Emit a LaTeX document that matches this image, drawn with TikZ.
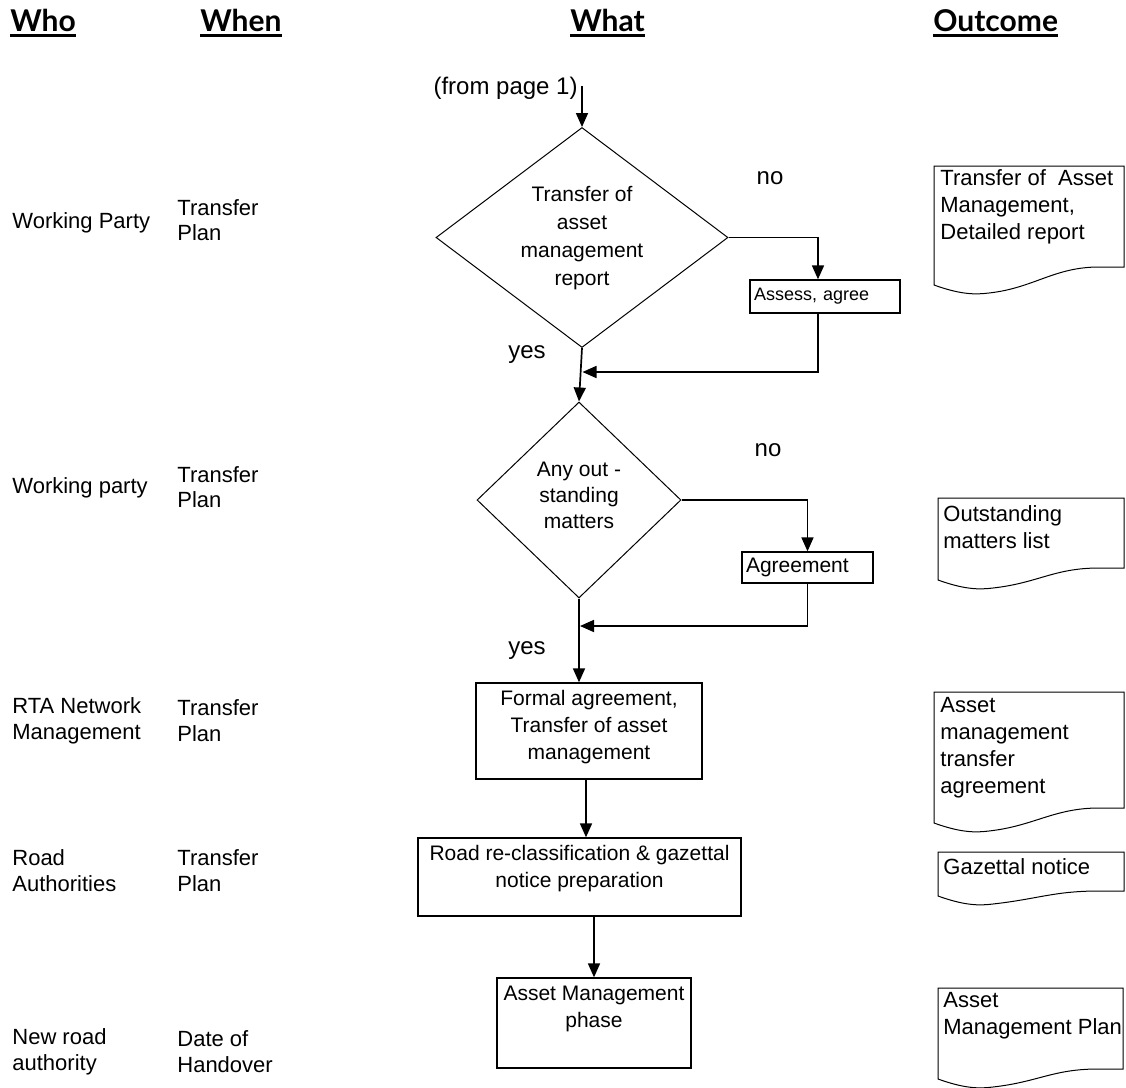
\documentclass[tikz,border=0pt]{standalone}
\usepackage{fontspec}
\setmainfont{Liberation Sans}
\newfontfamily\hdrfont{Lato}
\usetikzlibrary{shapes.geometric,arrows.meta,calc}
\newcommand\hul[1]{\setbox0\hbox{#1}\rlap{\rule[-3pt]{\wd0}{1.4pt}}\box0}
\newcommand\outdoc[6]{% name L T R yL yR
  \draw[docline] (#2,#3) -- (#4,#3) -- (#4,#6) -- ({#4-25},#6)
    .. controls ({#4-70},#6) and ({#2+100},{#5+3}) .. ({#2+55},{#5+8})
    .. controls ({#2+40},{#5+10}) and ({#2+25},{#5+9}) .. (#2,#5) -- cycle;}
\begin{document}
\begin{tikzpicture}[x=0.5pt,y=-0.5pt,
  hdr/.style={anchor=base west,inner sep=0,font=\hdrfont\bfseries\fontsize{15}{18}\selectfont},
  lbl/.style={anchor=west,align=left,inner sep=0,font=\fontsize{11}{12.5}\selectfont},
  lblb/.style={anchor=west,align=left,inner sep=0,font=\fontsize{11}{13}\selectfont},
  doctext/.style={anchor=west,align=left,inner sep=0,font=\fontsize{11}{13.5}\selectfont},
  lab/.style={inner sep=0,font=\fontsize{12}{14}\selectfont},
  dia/.style={draw,diamond,line width=0.5pt,inner sep=0},
  diatext/.style={inner sep=0,align=center,font=\fontsize{10.5}{14}\selectfont},
  box/.style={draw,line width=0.65pt,inner sep=0},
  toptext/.style={anchor=north,inner xsep=0,inner ysep=4pt,align=center,font=\fontsize{10.5}{13.5}\selectfont},
  docline/.style={line width=0.5pt},
  arr/.style={line width=0.85pt,-{Triangle[length=7pt,width=6pt]}}]
\useasboundingbox (0,0) rectangle (1126,1088);

% headers
\node[hdr] (hwho) at (10,31) {\hul{Who}};
\node[hdr] (hwhen) at (200,31) {\hul{When}};
\node[hdr] (hwhat) at (570,31) {\hul{What}};
\node[hdr] (hout) at (933,31) {\hul{Outcome}};

% left columns
\node[lbl] (who1) at (12,223) {Working Party};
\node[lbl] (when1) at (177,220) {Transfer\\Plan};
\node[lbl] (who2) at (12,488) {Working party};
\node[lbl] (when2) at (177,487) {Transfer\\Plan};
\node[lblb] (who3) at (12,721) {RTA Network\\Management};
\node[lblb] (when3) at (177,721) {Transfer\\Plan};
\node[lblb] (who4) at (12,871) {Road\\Authorities};
\node[lblb] (when4) at (177,871) {Transfer\\Plan};
\node[lblb] (who5) at (12,1052) {New road\\authority};
\node[lblb] (when5) at (177,1052) {Date of\\Handover};

% flow
\coordinate (fp) at (582,86);
\node[lab,anchor=east] (frompg) at (578,88) {(from page 1)};
\node[dia,minimum width=146pt,minimum height=110pt] (d1) at (582,237.5) {};
\node[diatext] (d1t) at (582,238) {Transfer of\\asset\\management\\report};
\node[box,text width=71pt,align=left,minimum height=16.5pt,inner xsep=2pt,font=\fontsize{9}{11}\selectfont] (a1) at (825,296.5) {Assess, agree};
\node[dia,minimum width=102pt,minimum height=98pt] (d2) at (579,500) {};
\node[diatext,font=\fontsize{10.5}{13}\selectfont] (d2t) at (579,495) {Any out -\\standing\\matters};
\node[box,text width=61.5pt,align=left,minimum height=15.5pt,inner xsep=2pt,font=\fontsize{10.5}{12}\selectfont] (a2) at (807.5,567.5) {Agreement};
\node[box,minimum width=113pt,minimum height=48pt] (f1) at (589,731) {};
\node[toptext] (f1t) at (f1.north) {Formal agreement,\\Transfer of asset\\management};
\node[box,minimum width=161.5pt,minimum height=39pt] (r1) at (579.5,877) {};
\node[toptext] (r1t) at (r1.north) {Road re-classification \& gazettal\\notice preparation};
\node[box,minimum width=97pt,minimum height=45pt] (p1) at (594,1023) {};
\node[toptext] (p1t) at (p1.north) {Asset Management\\phase};

\node[lab] (no1) at (770,178) {no};
\node[lab] (yes1) at (527,355) {yes};
\node[lab] (no2) at (768,450) {no};
\node[lab] (yes2) at (527,651) {yes};

\coordinate (j1) at (582.5,372);
\coordinate (j2) at (580,626);

\draw[arr] (fp) -- (d1.north);
\draw[arr] (d1.east) -| ($(a1.north)+(-7,0)$);
\draw[arr] ($(a1.south)+(-7,0)$) |- (j1);
\draw[arr] (d1.south) -- (d2.north);
\draw[arr] (d2.east) -| (a2.north);
\draw[arr] (a2.south) |- (j2);
\draw[arr] (d2.south) -- (d2.south |- f1.north);
\draw[arr] ([xshift=-1.5pt]f1.south) -- ([xshift=-1.5pt]f1.south |- r1.north);
\draw[arr] (r1.south -| p1.north) -- (p1.north);

% outcome documents
\outdoc{doc1}{934}{166}{1124}{285}{267}
\node[doctext] (o1) at (940,207) {Transfer of~ Asset\\Management,\\Detailed report};
\outdoc{doc2}{938}{498}{1124}{580}{568}
\node[doctext] (o2) at (943,527) {Outstanding\\matters list};
\outdoc{doc3}{934}{692}{1124}{823}{808}
\node[doctext] (o3) at (940,748) {Asset\\management\\transfer\\agreement};
\outdoc{doc4}{938}{852}{1124}{896}{891}
\node[doctext] (o4) at (943,867) {Gazettal notice};
\outdoc{doc5}{938}{988}{1123}{1079}{1069}
\node[doctext] (o5) at (943,1016) {Asset\\Management Plan};
\end{tikzpicture}
\end{document}
